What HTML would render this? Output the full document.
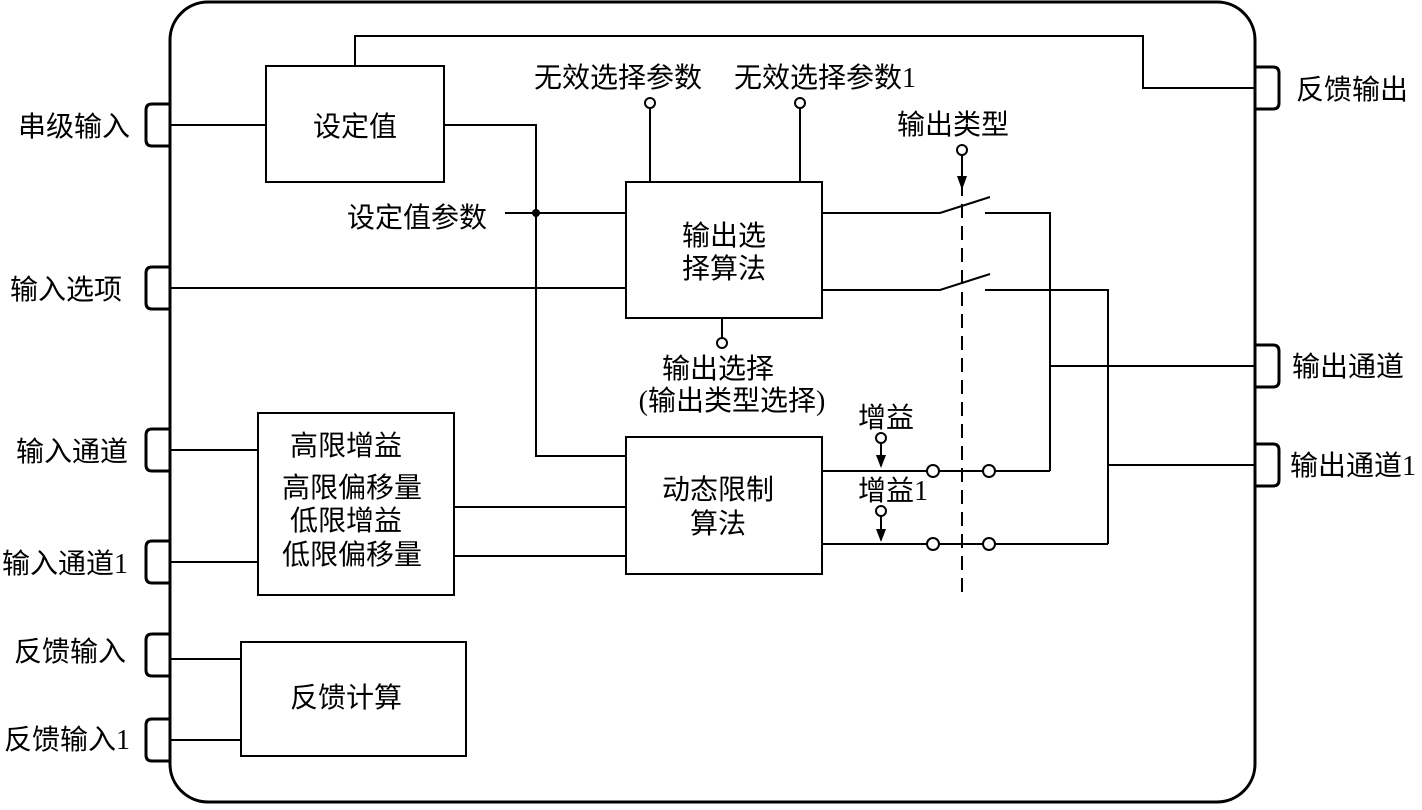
<!DOCTYPE html>
<html><head><meta charset="utf-8"><style>
html,body{margin:0;padding:0;background:#fff}
svg text{font-family:"Liberation Serif","Noto Sans CJK SC",serif;font-size:28px;fill:#000}
</style></head><body>
<svg width="1422" height="805" viewBox="0 0 1422 805" xmlns="http://www.w3.org/2000/svg">
<g fill="none" stroke="#000" stroke-width="2">
<rect x="170" y="2" width="1085" height="800" rx="38" stroke-width="3"/>
<g stroke-width="3">
<path d="M170,104 H152 Q146,104 146,110 V140 Q146,146 152,146 H170"/>
<path d="M170,267 H152 Q146,267 146,273 V303 Q146,309 152,309 H170"/>
<path d="M170,429 H152 Q146,429 146,435 V465 Q146,471 152,471 H170"/>
<path d="M170,541 H152 Q146,541 146,547 V577 Q146,583 152,583 H170"/>
<path d="M170,634 H152 Q146,634 146,640 V670 Q146,676 152,676 H170"/>
<path d="M170,719 H152 Q146,719 146,725 V755 Q146,761 152,761 H170"/>
<path d="M1255,67 H1273 Q1279,67 1279,73 V103 Q1279,109 1273,109 H1255"/>
<path d="M1255,345 H1273 Q1279,345 1279,351 V381 Q1279,387 1273,387 H1255"/>
<path d="M1255,444 H1273 Q1279,444 1279,450 V480 Q1279,486 1273,486 H1255"/>
</g>
<rect x="266" y="66" width="178" height="116"/>
<rect x="626" y="182" width="196" height="136"/>
<rect x="626" y="437" width="196" height="137"/>
<rect x="258" y="413" width="196" height="182"/>
<rect x="241" y="642" width="225" height="114"/>
<path d="M170,125 H266"/>
<path d="M444,125 H536 V456 H626"/>
<path d="M505,213 H626"/>
<path d="M355,66 V36 H1143 V88 H1255"/>
<path d="M650,182 V108 M800,182 V108"/>
<path d="M170,288 H626"/>
<path d="M722,318 V338"/>
<path d="M822,213 H940 L990,197 M985,213 H1050 V471"/>
<path d="M822,290 H940 L990,274 M985,290 H1108 V544"/>
<path d="M1050,366 H1255 M1108,465 H1255"/>
<path d="M962,160 V598" stroke-dasharray="14,8"/>
<path d="M962,155 V185 M881,443 V466 M881,516 V540"/>
<path d="M822,471 H927 M939,471 H983 M995,471 H1050"/>
<path d="M822,544 H927 M939,544 H983 M995,544 H1108"/>
<path d="M170,450 H258 M170,562 H258"/>
<path d="M454,507 H626 M454,556 H626"/>
<path d="M170,659 H241 M170,740 H241"/>
<circle cx="650" cy="103" r="5"/><circle cx="800" cy="103" r="5"/>
<circle cx="722" cy="343" r="5"/><circle cx="962" cy="150" r="5"/>
<circle cx="881" cy="438" r="5"/><circle cx="881" cy="511" r="5"/>
<circle cx="933" cy="471" r="6"/><circle cx="989" cy="471" r="6"/>
<circle cx="933" cy="544" r="6"/><circle cx="989" cy="544" r="6"/>
</g>
<g fill="#000">
<circle cx="536" cy="213" r="4"/>
<path d="M957,176 L962,190 L967,176 Z"/>
<path d="M876,455 L881,468 L886,455 Z"/>
<path d="M876,529 L881,542 L886,529 Z"/>
</g>
<text x="18" y="136">串级输入</text>
<text x="10" y="299">输入选项</text>
<text x="16" y="461">输入通道</text>
<text x="2" y="573">输入通道1</text>
<text x="14" y="661">反馈输入</text>
<text x="4" y="749">反馈输入1</text>
<text x="1296" y="99">反馈输出</text>
<text x="1292" y="376">输出通道</text>
<text x="1290" y="475">输出通道1</text>
<text x="355" y="136" text-anchor="middle">设定值</text>
<text x="347" y="227">设定值参数</text>
<text x="534" y="87">无效选择参数</text>
<text x="734" y="87">无效选择参数1</text>
<text x="897" y="134">输出类型</text>
<text x="724" y="245" text-anchor="middle">输出选</text>
<text x="724" y="278" text-anchor="middle">择算法</text>
<text x="718" y="378" text-anchor="middle">输出选择</text>
<text x="732" y="410" text-anchor="middle">(输出类型选择)</text>
<text x="858" y="427">增益</text>
<text x="858" y="500">增益1</text>
<text x="718" y="499" text-anchor="middle">动态限制</text>
<text x="718" y="533" text-anchor="middle">算法</text>
<text x="346" y="455" text-anchor="middle">高限增益</text>
<text x="352" y="497" text-anchor="middle">高限偏移量</text>
<text x="346" y="530" text-anchor="middle">低限增益</text>
<text x="352" y="564" text-anchor="middle">低限偏移量</text>
<text x="346" y="707" text-anchor="middle">反馈计算</text>
</svg>
</body></html>
